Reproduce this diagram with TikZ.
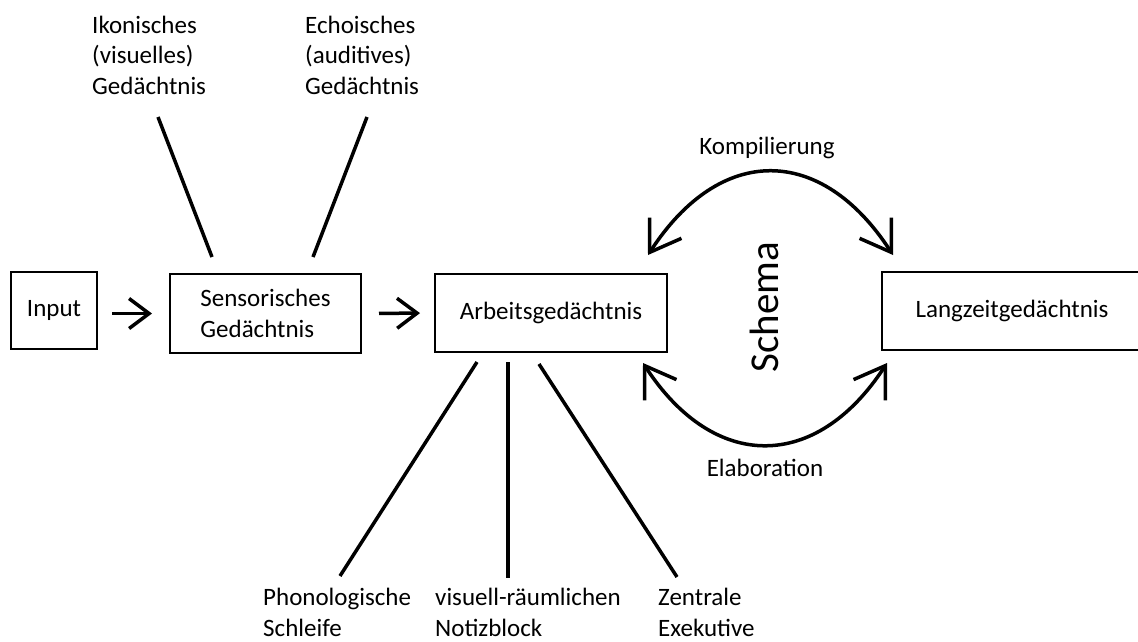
\documentclass[tikz,border=0pt]{standalone}
\usepackage{fontspec}
\setmainfont{Carlito}
\usetikzlibrary{arrows.meta}
\begin{document}
\begin{tikzpicture}[x=1pt,y=-1pt,
  every node/.style={font=\fontsize{25}{30.5}\selectfont},
  memory/.style={draw, line width=2pt, inner sep=0pt, align=center},
  caption/.style={align=left, inner sep=0pt},
  link/.style={line width=3.5pt},
  flow/.style={line width=3.5pt, -{Straight Barb[length=20pt,width=30pt]}},
  cycle/.style={line width=3.5pt,
    {Straight Barb[length=29pt,width=38pt]}-{Straight Barb[length=29pt,width=38pt]}}]
\clip (0,0) rectangle (1138,641);

% memory stores
\node[memory, minimum width=86pt, minimum height=77pt] (in) at (54,310.5) {Input};
\node[memory, minimum width=191pt, minimum height=79pt, align=left] (sens) at (265.5,313.5) {Sensorisches\\Gedächtnis};
\node[memory, minimum width=232pt, minimum height=78pt] (wm) at (551,313) {Arbeitsgedächtnis};
\node[memory, minimum width=260pt, minimum height=78pt] (ltm) at (1012,311) {Langzeitgedächtnis};

% flow between stores
\draw[flow, shorten <=14pt, shorten >=17pt] (in.east |- sens.west) -- (sens.west);
\draw[flow, shorten <=17pt, shorten >=14pt] (sens.east) -- (wm.west);

% sensory sub-stores (base anchor sits on the last line)
\node[caption, anchor=base west] (iko) at (92,94) {Ikonisches\\(visuelles)\\Gedächtnis};
\node[caption, anchor=base west] (echo) at (305,94) {Echoisches\\(auditives)\\Gedächtnis};
\coordinate (ikoTop) at (158,117);
\coordinate (ikoFoot) at (212,257);
\coordinate (echoTop) at (367,117);
\coordinate (echoFoot) at (313,257);
\draw[link] (ikoTop) -- (ikoFoot);
\draw[link] (echoTop) -- (echoFoot);

% working memory components
\node[caption, anchor=base west] (phon) at (263,636) {Phonologische\\Schleife};
\node[caption, anchor=base west] (vis) at (435,636) {visuell-räumlichen\\Notizblock};
\node[caption, anchor=base west] (zent) at (658,636) {Zentrale\\Exekutive};
\coordinate (phonTop) at (477,362);
\coordinate (phonFoot) at (340,576);
\coordinate (visTop) at (508,362);
\coordinate (visFoot) at (508,578);
\coordinate (zentTop) at (539,364);
\coordinate (zentFoot) at (677,577);
\draw[link] (phonTop) -- (phonFoot);
\draw[link] (visTop) -- (visFoot);
\draw[link] (zentTop) -- (zentFoot);

% schema cycle between working and long-term memory
\coordinate (wmUp) at (648,255);
\coordinate (ltmUp) at (893,255);
\coordinate (wmDown) at (643,363);
\coordinate (ltmDown) at (887,363);
\draw[cycle] (wmUp) .. controls (720,144) and (821,144) .. (ltmUp);
\draw[cycle] (wmDown) .. controls (714,472) and (816,472) .. (ltmDown);
\node (komp) at (767,148) {Kompilierung};
\node (elab) at (765,468) {Elaboration};
\node[font=\fontsize{41}{49}\selectfont, rotate=90] (schema) at (764,307) {Schema};
\end{tikzpicture}
\end{document}
